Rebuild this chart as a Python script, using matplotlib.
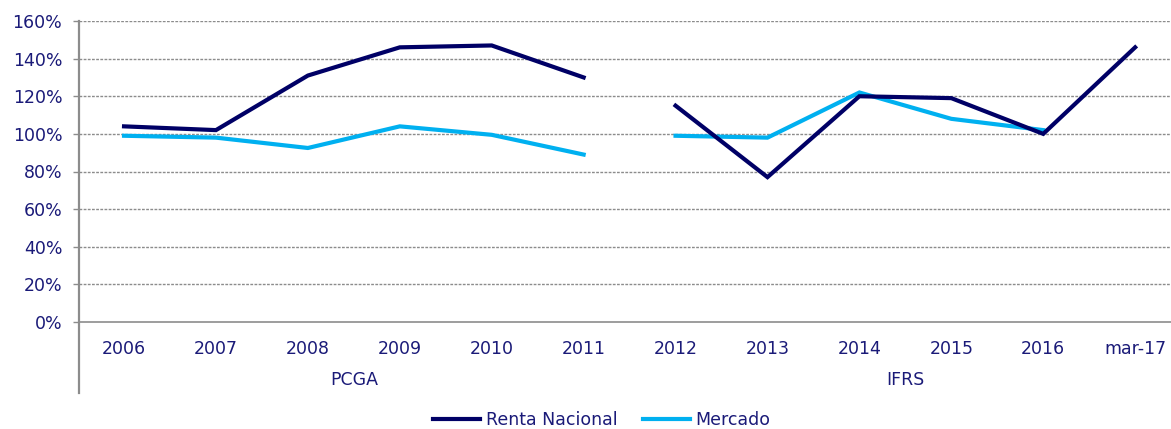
import matplotlib
matplotlib.use("Agg")
import matplotlib.pyplot as plt
import matplotlib.transforms as mtransforms
from matplotlib.lines import Line2D
import numpy as np

categories = ["2006", "2007", "2008", "2009", "2010", "2011",
              "2012", "2013", "2014", "2015", "2016", "mar-17"]
groups = ["PCGA", "IFRS"]
group_sizes = [6, 6]
renta_nacional = [104, 102, 131, 146, 147, 130,
                  115, 77, 120, 119, 100, 146]
mercado = [99, 98, 92.5, 104, 99.5, 89,
           99, 98, 122, 108, 102, None]
yticks = [0, 20, 40, 60, 80, 100, 120, 140, 160]

NAVY = "#000066"
CYAN = "#00b0f0"
TXT = "#1a1a78"
GRAY = "#8c8c8c"
FS = 12.5

plt.rcParams['font.family'] = ['DejaVu Sans']
fig = plt.figure(figsize=(11.71, 4.29), dpi=100)
ax = fig.add_axes([79/1171, (429-322)/429, 1 - 79/1171, 301/429])

x = np.arange(len(categories))

def seg(vals, lo, hi):
    xs, ys = [], []
    for i in range(lo, hi):
        if vals[i] is not None:
            xs.append(x[i]); ys.append(vals[i])
    return xs, ys

start = 0
for gs in group_sizes:
    xs, ys = seg(renta_nacional, start, start + gs)
    ax.plot(xs, ys, color=NAVY, lw=3, solid_joinstyle='miter', zorder=3)
    xs, ys = seg(mercado, start, start + gs)
    ax.plot(xs, ys, color=CYAN, lw=3, solid_joinstyle='miter', zorder=2)
    start += gs

ax.set_xlim(-0.49, 11.39)
ax.set_ylim(0, 160)
ax.set_yticks(yticks)
ax.set_yticklabels([f"{v}%" for v in yticks], color=TXT, fontsize=FS)
ax.set_xticks(x)
ax.set_xticklabels(categories, color=TXT, fontsize=FS)
ax.tick_params(axis='x', length=0, pad=13)
ax.tick_params(axis='y', length=4.5, width=1, color=GRAY, pad=7.5)

for v in yticks[1:]:
    ax.axhline(v, color=GRAY, lw=1, linestyle=(0, (2, 1)), zorder=1)

for s in ['top', 'right']:
    ax.spines[s].set_visible(False)
ax.spines['bottom'].set_color(GRAY)
ax.spines['bottom'].set_linewidth(1.2)
ax.spines['left'].set_visible(False)
ax.add_line(Line2D([0, 0], [(322-393)/301, 1], transform=ax.transAxes,
                   color=GRAY, lw=1.6, clip_on=False))

trans = mtransforms.blended_transform_factory(ax.transData, ax.transAxes)
start = 0
for g, gs in zip(groups, group_sizes):
    cx = (x[start] + x[start + gs - 1]) / 2
    ax.text(cx, (322-380)/301, g, transform=trans, ha='center', va='center',
            color=TXT, fontsize=FS)
    start += gs

handles = [Line2D([], [], color=NAVY, lw=3), Line2D([], [], color=CYAN, lw=3)]
fig.legend(handles, ["Renta Nacional", "Mercado"], loc='center',
           bbox_to_anchor=(0.514, 0.02), ncol=2, frameon=False,
           handlelength=2.7, handletextpad=0.3, columnspacing=1.5,
           fontsize=FS, labelcolor=TXT)

fig.savefig("out.png", dpi=100)
